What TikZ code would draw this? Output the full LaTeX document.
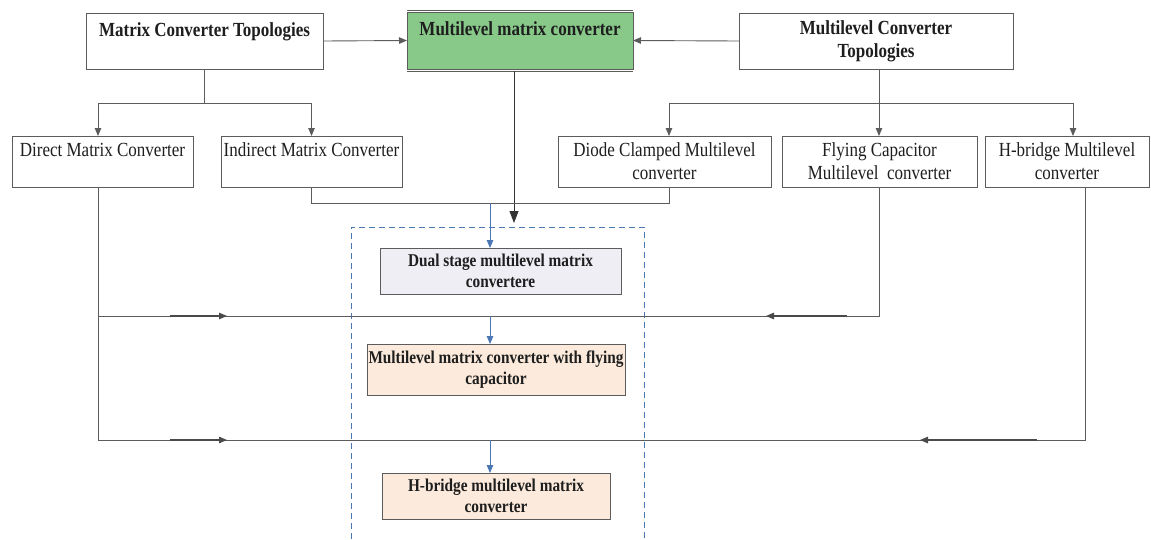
\documentclass[tikz,border=0pt]{standalone}
\usepackage{fontspec}
\setmainfont{Liberation Serif}[FakeStretch=0.85]
\usetikzlibrary{arrows.meta,calc}
\definecolor{linegray}{HTML}{5C5C5C}
\definecolor{textdark}{HTML}{1E1E1E}
\definecolor{flowblue}{HTML}{4A76B4}
\definecolor{mmcgreen}{HTML}{88C98A}
\definecolor{dualfill}{HTML}{EEEEF4}
\definecolor{peach}{HTML}{FCEBDC}
\begin{document}
\begin{tikzpicture}[x=1pt,y=-1pt,
  box/.style={draw=linegray, line width=0.9pt, rectangle, inner sep=0pt, outer sep=0pt,
              align=center, text=textdark},
  topbox/.style={box, font=\fontsize{20}{23}\selectfont\bfseries},
  subbox/.style={box, font=\fontsize{20}{23}\selectfont},
  innerbox/.style={box, font=\fontsize{18}{21}\selectfont\bfseries},
  conn/.style={draw=linegray, line width=0.9pt},
  tip/.style={conn, -{Triangle[length=8pt,width=6.5pt]}},
  midtip/.style={draw=linegray!80!black, line width=1.1pt, -{Triangle[length=8pt,width=6.5pt]}},
  bigtip/.style={draw=black!80, line width=0.9pt, -{Triangle[length=12pt,width=9pt]}},
  bluetip/.style={draw=flowblue, line width=0.9pt, -{Triangle[length=8pt,width=6.5pt]}},
  frame/.style={draw=flowblue, line width=1pt, dash pattern=on 6pt off 4pt}
]
\useasboundingbox (0,0) rectangle (1151,539);

% top row
\node[topbox, minimum width=237pt, minimum height=56pt] (mct) at (204.5,41)
  {Matrix Converter Topologies\\\mbox{}};
\node[topbox, fill=mmcgreen, minimum width=226pt, minimum height=57pt] (mmc) at (520,40.5)
  {Multilevel matrix converter\\\mbox{}};
\draw[conn] ([yshift=2pt]mmc.north west) -- ([yshift=2pt]mmc.north east);
\draw[conn] ([yshift=-2pt]mmc.south west) -- ([yshift=-2pt]mmc.south east);
\node[topbox, minimum width=274pt, minimum height=56pt] (mlct) at (876,41)
  {Multilevel Converter\\Topologies};

% second row
\node[subbox, minimum width=181pt, minimum height=51pt] (dmc) at (102.5,161.5)
  {Direct Matrix Converter\\\mbox{}};
\node[subbox, minimum width=181pt, minimum height=51pt] (imc) at (311.5,161.5)
  {Indirect Matrix Converter\\\mbox{}};
\node[subbox, minimum width=213pt, minimum height=51pt] (dcm) at (664.5,161.5)
  {Diode Clamped Multilevel\\converter};
\node[subbox, minimum width=195pt, minimum height=51pt] (fcm) at (879.5,161.5)
  {Flying Capacitor\\Multilevel\ \ converter};
\node[subbox, minimum width=164pt, minimum height=51pt] (hbm) at (1067,161.5)
  {H-bridge Multilevel\\converter};

% multilevel matrix converter family
\node[innerbox, fill=dualfill, minimum width=241pt, minimum height=46pt] (dual) at (500.5,271)
  {Dual stage multilevel matrix\\convertere};
\node[innerbox, fill=peach, minimum width=258pt, minimum height=51pt] (fcmmc) at (496,369.5)
  {Multilevel matrix converter with flying\\capacitor};
\node[innerbox, fill=peach, minimum width=228pt, minimum height=46pt] (hbmmc) at (496,496)
  {H-bridge multilevel matrix\\converter};

% dashed frame round the family
\draw[frame] (351,539) |- (644,227) -- (644,539);

% helper coordinates
\coordinate (busT) at (0,203);
\coordinate (busA) at (0,316);
\coordinate (busB) at (0,440);
\coordinate (splitL) at (0,103);
\coordinate (bx) at (490,0);
\coordinate (frameTop) at (0,223);
\coordinate (dmcS) at ([xshift=-4.5pt]dmc.south);
\coordinate (dmcN) at ([xshift=-4.5pt]dmc.north);
\coordinate (dcmN) at ([xshift=4.5pt]dcm.north);
\coordinate (dcmS) at ([xshift=4.5pt]dcm.south);
\coordinate (hbmN) at ([xshift=6pt]hbm.north);
\coordinate (hbmS) at ([xshift=18pt]hbm.south);
\coordinate (mmcS) at ([xshift=-6pt,yshift=-2pt]mmc.south);
\coordinate (mlctS) at ([xshift=3pt]mlct.south);

% top arrows into the multilevel matrix converter
\draw[tip] (mct.east) -- (mmc.west);
\draw[tip] (mlct.west) -- (mmc.east);

% matrix converter split
\draw[conn] (mct.south) -- (mct.south |- splitL);
\draw[conn] (dmcN |- splitL) -- (imc.north |- splitL);
\draw[tip] (dmcN |- splitL) -- (dmcN);
\draw[tip] (imc.north |- splitL) -- (imc.north);

% multilevel converter split
\draw[conn] (dcmN |- splitL) -- (hbmN |- splitL);
\draw[tip] (mlctS) -- (mlctS |- dcmN);
\draw[tip] (dcmN |- splitL) -- (dcmN);
\draw[tip] (hbmN |- splitL) -- (hbmN);

% multilevel matrix converter down into the frame
\draw[bigtip] (mmcS) -- (mmcS |- frameTop);

% indirect + diode clamped -> dual stage
\draw[conn] (imc.south) -- (imc.south |- busT) -- (dcmS |- busT) -- (dcmS);
\draw[bluetip] (bx |- busT) -- (bx |- dual.north);

% direct + flying capacitor -> flying capacitor MMC
\draw[conn] (dmcS |- busA) -- (fcm.south |- busA) -- (fcm.south);
\coordinate (a1s) at (170,316); \coordinate (a1e) at (227,316);
\coordinate (a2s) at (847,316); \coordinate (a2e) at (766,316);
\draw[midtip] (a1s) -- (a1e);
\draw[midtip] (a2s) -- (a2e);
\draw[bluetip] (bx |- busA) -- (bx |- fcmmc.north);

% direct + H-bridge -> H-bridge MMC
\draw[conn] (dmcS) -- (dmcS |- busB) -- (hbmS |- busB) -- (hbmS);
\coordinate (b1s) at (170,440); \coordinate (b1e) at (227,440);
\coordinate (b2s) at (1037,440); \coordinate (b2e) at (920,440);
\draw[midtip] (b1s) -- (b1e);
\draw[midtip] (b2s) -- (b2e);
\draw[bluetip] (bx |- busB) -- (bx |- hbmmc.north);
\end{tikzpicture}
\end{document}
